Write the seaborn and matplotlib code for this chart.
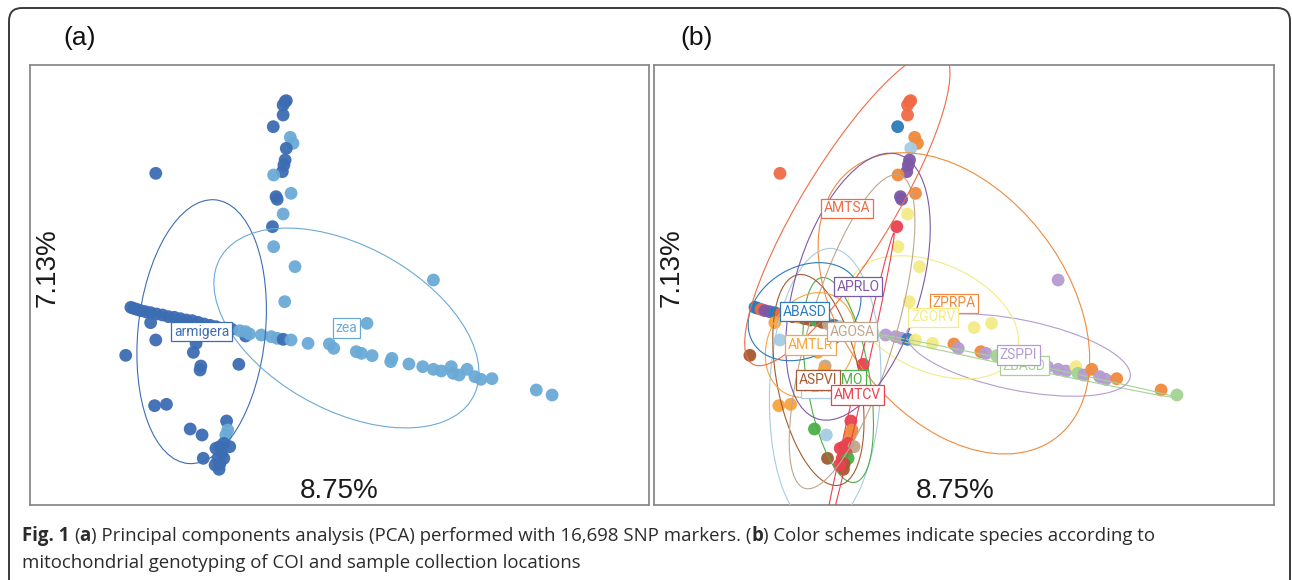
import matplotlib
matplotlib.use("Agg")
import matplotlib.pyplot as plt
import seaborn as sns
import numpy as np
import pandas as pd
from matplotlib.patches import Ellipse, FancyBboxPatch

# PCA scores (PC1 = 8.75 %, PC2 = 7.13 %)
pc1 = [0.85, 0.80, 0.88, 0.80, 0.55, 0.98, 1.05, 0.88, 0.85, 0.82,
       0.78, 0.56, 1.00, 0.62, 0.65, 0.80, 0.53, 0.56, 1.10, 0.84,
       -2.42, 4.60, 2.92, 2.48,
       # armigera band on the left
       -3.05, -2.98, -2.90, -2.80, -2.68, -2.55, -2.40, -2.25, -2.10, -1.95,
       -1.80, -1.65, -1.50, -1.35, -1.20, -1.05, -0.90, -0.70, -0.50, -0.15,
       -2.55, -2.42, -3.18, -1.40, -1.47, -1.28, -1.30, -0.32,
       # zea band towards the right
       -0.30, -0.15, -0.05, 0.25, 0.50, 0.65, 0.80, 1.00, 1.43, 1.97,
       2.08, 2.65, 2.78, 3.05, 3.52, 3.55, 3.98, 4.33, 4.60, 4.80,
       5.05, 5.10, 5.25, 5.45, 5.65, 5.80, 6.08, 7.20, 7.60,
       # lower streak
       -2.45, -2.15, -1.55, -1.25, -0.63, -0.60, -0.65, -1.22, -0.80, -0.70,
       -0.55, -0.75, -0.85, -0.70, -0.80, -0.82, -0.92, -0.90]
pc2 = [6.75, 6.65, 6.78, 6.35, 6.00, 5.68, 5.50, 5.35, 5.00, 4.85,
       4.65, 4.55, 4.00, 3.90, 3.82, 3.38, 3.00, 2.40, 1.80, 0.75,
       4.60, 1.40, 0.10, -0.03,
       0.58, 0.55, 0.52, 0.48, 0.45, 0.42, 0.38, 0.35, 0.30, 0.28,
       0.24, 0.20, 0.18, 0.13, 0.08, 0.04, 0.00, -0.05, -0.08, -0.28,
       0.12, -0.40, -0.86, -0.50, -0.77, -1.18, -1.30, -1.13,
       -0.12, -0.15, -0.22, -0.25, -0.30, -0.35, -0.38, -0.40, -0.50, -0.52,
       -0.65, -0.75, -0.80, -0.87, -1.05, -0.95, -1.12, -1.20, -1.28, -1.33,
       -1.20, -1.40, -1.45, -1.28, -1.50, -1.58, -1.56, -1.90, -2.05,
       -2.37, -2.33, -3.07, -3.25, -2.83, -3.10, -3.25, -3.95, -3.60, -3.50,
       -3.60, -3.80, -3.95, -3.95, -4.12, -4.28, -4.15, -3.65]
location = ["AMTSA", "AMTSA", "AMTSA", "AMTSA", "ABASD", "ZPRPA", "ZPRPA", "ABALE", "APRLO", "APRLO",
            "APRLO", "ZPRPA", "ZPRPA", "APRLO", "APRLO", "ZGORV", "AMTCV", "ZGORV", "ZGORV", "ZGORV",
            "AMTSA", "ZSPPI", "ZGORV", "ZGORV",
            "ABASD", "ABASD", "AMTSA", "APRLO", "APRLO", "ABASD", "AMTSA", "ABASD", "ASPVI", "AMTLR",
            "ASPVI", "ASPVI", "AGOMO", "ASPVI", "AGOSA", "ABASD", "ABALE", "ABASD", "AMTCV", "ABASD",
            "AMTLR", "ABALE", "ASPVI", "AMTLR", "AMTLR", "AGOSA", "AMTLR", "AMTCV",
            "ZBASD", "ZSPPI", "ZGORV", "ZSPPI", "ZSPPI", "ZSPPI", "ABASD", "ZGORV", "ZGORV", "ZPRPA",
            "ZSPPI", "ZPRPA", "ZSPPI", "ZBASD", "ZSPPI", "ZSPPI", "ZSPPI", "ZSPPI", "ZSPPI", "ZSPPI",
            "ZGORV", "ZBASD", "ZSPPI", "ZPRPA", "ZSPPI", "ZSPPI", "ZPRPA", "ZPRPA", "ZBASD",
            "AMTLR", "AMTLR", "AGOMO", "ABALE", "AMTCV", "ZPRPA", "ZPRPA", "ASPVI", "AMTCV", "AMTCV",
            "AGOSA", "AMTCV", "AMTCV", "AGOMO", "ASPVI", "ASPVI", "AMTCV", "AMTCV"]

# species ellipses, panel (a): centre, width, height, angle
sp_names = ["armigera", "zea"]
sp_x = [-1.26, 2.40]
sp_y = [-0.15, -0.04]
sp_w = [7.94, 7.68]
sp_h = [3.22, 4.68]
sp_angle = [85.3, -38.0]

# location ellipses, panel (b) (drawn in this order, last label on top)
loc_names = ["ZBASD", "ZSPPI", "ZPRPA", "ZGORV", "ABALE", "AGOMO", "ASPVI",
             "AMTCV", "AMTLR", "AGOSA", "ABASD", "APRLO", "AMTSA"]
loc_x = [3.75, 3.60, 1.97, 1.45, -1.28, -0.95, -1.45, -0.47, -1.65, -0.60, -1.80, -0.45, -0.72]
loc_y = [-1.17, -0.85, 0.70, 0.28, -1.85, -1.60, -1.60, -2.05, -0.55, -0.15, 0.45, 1.20, 3.55]
loc_w = [8.0, 5.8, 9.66, 4.75, 8.4, 6.2, 6.4, 9.9, 3.2, 9.7, 3.25, 8.2, 10.5]
loc_h = [0.15, 2.1, 5.95, 3.1, 2.8, 1.6, 2.1, 0.22, 2.2, 2.2, 2.49, 3.2, 2.4]
loc_angle = [-14, -14, -63.4, -34, 88, 97.5, 99, 79.2, 75, 76, 48.7, 76.6, 63.3]

species_colors = {"armigera": "#3c6db3", "zea": "#6aaad6"}
location_colors = {
    "ABASD": "#2b7bba", "ABALE": "#a6cde4", "AGOMO": "#4daf4a", "ZBASD": "#a3d492",
    "AMTSA": "#f06a45", "AMTCV": "#e8424f", "AMTLR": "#f9a43f", "ZPRPA": "#f08a3c",
    "ZSPPI": "#b59bd1", "APRLO": "#7d58a6", "ZGORV": "#f4ea86", "AGOSA": "#c0a68b",
    "ASPVI": "#a65a30",
}

df = pd.DataFrame({"PC1": pc1, "PC2": pc2, "location": location})
df["species"] = np.where(df["location"].str.startswith("A"), "armigera", "zea")

sns.set_style("white")
plt.rcParams["font.family"] = ["Liberation Sans", "DejaVu Sans"]

fig = plt.figure(figsize=(12.92, 5.80), dpi=100)
ax_a = fig.add_axes([30 / 1292, 75 / 580, 619 / 1292, 440 / 580])
ax_b = fig.add_axes([654 / 1292, 75 / 580, 620 / 1292, 440 / 580])

sns.scatterplot(data=df, x="PC1", y="PC2", hue="species", palette=species_colors,
                s=85, linewidth=0, alpha=0.95, legend=False, ax=ax_a, zorder=2)
sns.scatterplot(data=df, x="PC1", y="PC2", hue="location", palette=location_colors,
                s=85, linewidth=0, alpha=0.95, legend=False, ax=ax_b, zorder=2)


def draw_groups(ax, names, xs, ys, ws, hs, angles, colors):
    # ellipse per group plus a boxed label at its centre
    for name, cx, cy, w, h, ang in zip(names, xs, ys, ws, hs, angles):
        c = colors[name]
        ax.add_patch(Ellipse((cx, cy), w, h, angle=ang, fill=False,
                             edgecolor=c, lw=0.8, zorder=3))
    for i, (name, cx, cy) in enumerate(zip(names, xs, ys)):
        c = colors[name]
        ax.text(cx, cy, name, color=c, fontsize=10, family="Roboto",
                ha="center", va="center", zorder=5 + i,
                bbox=dict(boxstyle="square,pad=0.2", fc="white", ec=c, lw=0.9))


draw_groups(ax_a, sp_names, sp_x, sp_y, sp_w, sp_h, sp_angle, species_colors)
draw_groups(ax_b, loc_names, loc_x, loc_y, loc_w, loc_h, loc_angle, location_colors)

for ax, xl in ((ax_a, 0.499), (ax_b, 0.486)):
    ax.set_xlim(-5.6, 10.05)
    ax.set_ylim(-5.35, 7.85)
    ax.set_xticks([])
    ax.set_yticks([])
    ax.set_xlabel("")
    ax.set_ylabel("")
    for sp in ax.spines.values():
        sp.set_color("#8a8a8a")
        sp.set_linewidth(1.3)
    ax.text(0.028, 0.54, "7.13%", rotation=90, transform=ax.transAxes,
            ha="center", va="center", fontsize=20, color="#1a1a1a", zorder=20)
    ax.text(xl, 0.032, "8.75%", transform=ax.transAxes,
            ha="center", va="center", fontsize=20, color="#1a1a1a", zorder=20)

fig.text(80 / 1292, 1 - 38 / 580, "(a)", fontsize=19, ha="center", va="center", color="#111111")
fig.text(697 / 1292, 1 - 38 / 580, "(b)", fontsize=19, ha="center", va="center", color="#111111")

# rounded frame around the whole figure
frame = FancyBboxPatch((0.09, -0.12), 12.81, 5.84, boxstyle="round,pad=0,rounding_size=0.13",
                       transform=fig.dpi_scale_trans, fill=False, ec="#3a3a3a", lw=1.4)
fig.add_artist(frame)

# caption with bold pieces, laid out piece by piece
renderer = fig.canvas.get_renderer()
cap_kw = dict(fontsize=13.4, family="Open Sans", color="#2b2b2b", va="baseline")
t1 = fig.text(0, 0, "a a", **cap_kw)
t2 = fig.text(0, 0, "aa", **cap_kw)
space_w = (t1.get_window_extent(renderer).width - t2.get_window_extent(renderer).width) / fig.bbox.width
t1.remove()
t2.remove()


def caption_line(segments, x, y):
    for txt, weight in segments:
        if txt.startswith(" "):
            x += space_w
            txt = txt.lstrip()
        t = fig.text(x, y, txt, fontweight=weight, **cap_kw)
        x = t.get_window_extent(renderer).x1 / fig.bbox.width


caption_line([("Fig. 1", "bold"), (" (", "normal"), ("a", "bold"),
              (") Principal components analysis (PCA) performed with 16,698 SNP markers. (", "normal"),
              ("b", "bold"), (") Color schemes indicate species according to", "normal")],
             22 / 1292, (580 - 541) / 580)
caption_line([("mitochondrial genotyping of COI and sample collection locations", "normal")],
             22 / 1292, (580 - 568) / 580)

fig.savefig("out.png", dpi=100)
plt.close()
